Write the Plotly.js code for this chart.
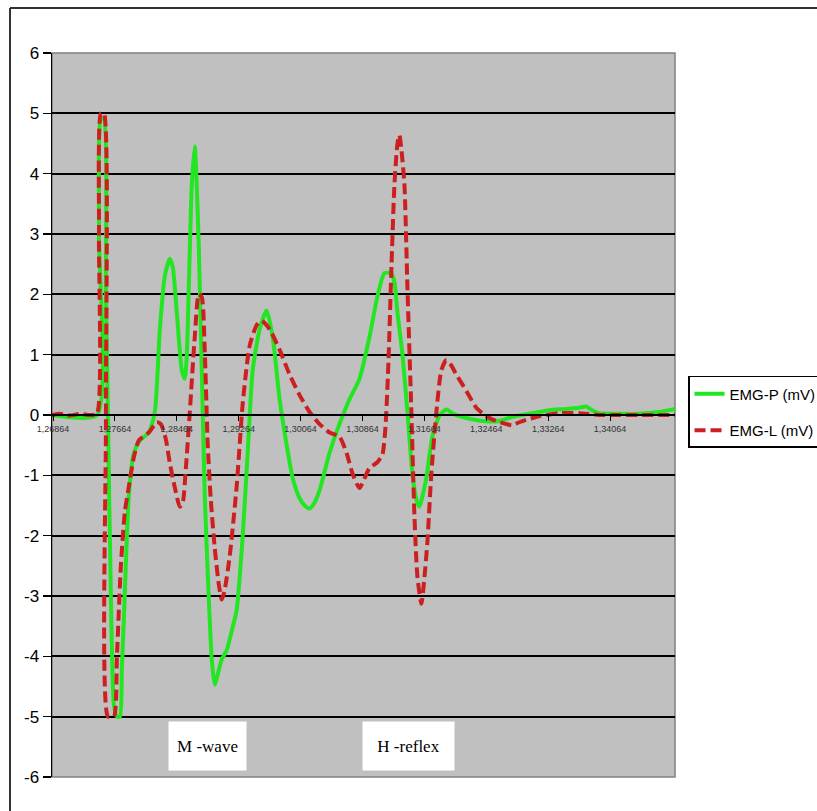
<!DOCTYPE html>
<html>
<head>
<meta charset="utf-8">
<script src="https://cdn.plot.ly/plotly-3.0.1.min.js"></script>
<style>
  html, body { margin: 0; padding: 0; background: #ffffff; }
  #chart { width: 817px; height: 811px; }
</style>
</head>
<body>
<div id="chart"></div>
<script>
// ---- Data (time in s, signals in mV) ----
const timeP = [1.26851,1.27432,1.27458,1.27483,1.27522,1.27548,1.27574,1.27612,1.27651,1.27690,1.27729,1.27754,1.27780,1.27845,1.27909,1.27987,1.28103,1.28180,1.28245,1.28309,1.28374,1.28412,1.28464,1.28529,1.28567,1.28593,1.28619,1.28658,1.28696,1.28722,1.28748,1.28787,1.28825,1.28877,1.28916,1.28954,1.28993,1.29045,1.29109,1.29174,1.29238,1.29316,1.29380,1.29445,1.29535,1.29625,1.29703,1.29793,1.29883,1.29961,1.30051,1.30116,1.30180,1.30245,1.30309,1.30438,1.30567,1.30696,1.30825,1.30954,1.31058,1.31148,1.31238,1.31277,1.31316,1.31380,1.31445,1.31509,1.31561,1.31600,1.31638,1.31690,1.31767,1.31858,1.31948,1.32025,1.32116,1.32206,1.32412,1.32632,1.32800,1.33058,1.33277,1.33496,1.33664,1.33754,1.33832,1.33922,1.34180,1.34438,1.34696,1.34903];
const emgP = [0,0,3.0,4.9,4.9,2.0,0,-3.0,-4.8,-5.0,-5.0,-4.2,-3.37,-1.32,-0.63,-0.42,-0.29,0.05,1.42,2.3,2.59,2.45,1.7,0.74,0.6,1.0,2.1,3.82,4.45,3.8,2.8,0.74,-1.32,-3.03,-4.05,-4.47,-4.3,-4.05,-3.9,-3.58,-3.23,-2.0,-0.63,0.74,1.42,1.73,1.29,0.26,-0.49,-1.04,-1.38,-1.5,-1.55,-1.45,-1.25,-0.63,-0.15,0.26,0.6,1.29,1.97,2.35,2.35,2.2,1.7,1.01,0.05,-0.97,-1.4,-1.52,-1.35,-1.04,-0.36,-0.01,0.09,0.03,-0.02,-0.05,-0.1,-0.1,-0.03,0.03,0.08,0.1,0.12,0.14,0.08,0.03,0.02,0.02,0.05,0.1];

const timeL = [1.26851,1.26954,1.27083,1.27212,1.27341,1.27432,1.27458,1.27483,1.27522,1.27548,1.27574,1.27651,1.27690,1.27741,1.27793,1.27845,1.27909,1.27974,1.28103,1.28206,1.28258,1.28322,1.28374,1.28438,1.28503,1.28541,1.28580,1.28632,1.28696,1.28748,1.28787,1.28825,1.28864,1.28903,1.28954,1.29006,1.29045,1.29083,1.29148,1.29238,1.29316,1.29406,1.29496,1.29561,1.29664,1.29793,1.29922,1.30051,1.30180,1.30309,1.30438,1.30567,1.30658,1.30735,1.30825,1.30890,1.30954,1.31058,1.31122,1.31161,1.31200,1.31238,1.31277,1.31316,1.31341,1.31367,1.31406,1.31445,1.31496,1.31535,1.31574,1.31625,1.31664,1.31703,1.31754,1.31819,1.31883,1.31948,1.32012,1.32077,1.32206,1.32335,1.32464,1.32593,1.32722,1.32800,1.32890,1.32980,1.33148,1.33406,1.33664,1.33922,1.34180,1.34438,1.34696,1.34903];
const emgL = [0,0.02,-0.01,0.02,0,0.02,3.0,5.0,5.0,0,-5.0,-5.0,-4.0,-2.5,-1.6,-1.18,-0.7,-0.42,-0.29,-0.12,-0.15,-0.4,-0.8,-1.2,-1.52,-1.45,-0.9,0.05,1.29,2.0,1.95,1.08,-0.5,-1.4,-2.2,-2.8,-3.06,-2.9,-2.34,-1.18,0.19,1.15,1.49,1.56,1.42,1.08,0.67,0.33,0.05,-0.15,-0.29,-0.36,-0.63,-0.97,-1.21,-1.05,-0.88,-0.78,-0.65,-0.2,0.9,2.45,3.82,4.5,4.64,4.4,3.82,2.1,0.05,-1.66,-2.68,-3.13,-2.7,-2.1,-0.97,0.05,0.74,0.91,0.82,0.67,0.4,0.12,-0.02,-0.1,-0.15,-0.17,-0.12,-0.08,-0.02,0.03,0.03,0,0,0,0,0];

const xTickVals = [1.26864,1.27664,1.28464,1.29264,1.30064,1.30864,1.31664,1.32464,1.33264,1.34064];
const xTickText = ["1,26864","1,27664","1,28464","1,29264","1,30064","1,30864","1,31664","1,32464","1,33264","1,34064"];
const yTickVals = [-6,-5,-4,-3,-2,-1,0,1,2,3,4,5,6];
const yTickText = ["-6","-5","-4","-3","-2","-1","0","1","2","3","4","5","6"];

const seriesNames = ["EMG-P (mV)", "EMG-L (mV)"];
const annotationTexts = ["M -wave", "H -reflex"];

const sans = "'Liberation Sans', Arial, sans-serif";
const serif = "'Liberation Serif', 'Times New Roman', serif";

const traces = [
  {
    x: timeP, y: emgP, name: seriesNames[0], type: 'scatter', mode: 'lines', legendgroup: 'p',
    line: { color: '#22e622', width: 4, shape: 'spline', smoothing: 0.6 }
  },
  {
    x: timeL, y: emgL, name: seriesNames[1], type: 'scatter', mode: 'lines', legendgroup: 'l',
    line: { color: '#cc1f1f', width: 4, dash: '11px,5px', shape: 'spline', smoothing: 0.6 }
  }
];

const layout = {
  width: 817, height: 811,
  margin: { l: 52, r: 142, t: 53, b: 34, pad: 0, autoexpand: false },
  paper_bgcolor: '#ffffff',
  plot_bgcolor: '#c0c0c0',
  showlegend: true,
  legend: {
    x: 1.0209, y: 0.554, xanchor: 'left', yanchor: 'top',
    bgcolor: '#ffffff', bordercolor: '#000000', borderwidth: 1.5,
    font: { family: sans, size: 15, color: '#000000' },
    itemwidth: 30, tracegroupgap: 14
  },
  xaxis: {
    type: 'linear',
    range: [1.26851, 1.34903],
    tickvals: xTickVals, ticktext: xTickText,
    anchor: 'free', position: 0.5,
    showline: true, linecolor: '#000000', linewidth: 2,
    ticks: 'outside', ticklen: 5, tickcolor: '#000000', tickwidth: 1,
    tickfont: { family: sans, size: 9, color: '#333333' },
    showgrid: false, zeroline: false, fixedrange: true
  },
  yaxis: {
    range: [-6, 6],
    tickvals: yTickVals, ticktext: yTickText,
    showgrid: true, gridcolor: '#000000', gridwidth: 2,
    showline: true, linecolor: '#000000', linewidth: 1.5,
    ticks: 'outside', ticklen: 8, tickcolor: '#000000', tickwidth: 1.5,
    tickfont: { family: sans, size: 17, color: '#000000' },
    zeroline: false, fixedrange: true
  },
  shapes: [
    { type: 'rect', xref: 'paper', yref: 'paper', x0: 0, x1: 1, y0: 0, y1: 1,
      line: { color: '#808080', width: 1.5 }, layer: 'below' },
    { type: 'line', xref: 'paper', yref: 'paper', x0: -0.0674, x1: -0.0674, y0: -0.2, y1: 1.0622,
      line: { color: '#333333', width: 2 } },
    { type: 'line', xref: 'paper', yref: 'paper', x0: -0.0674, x1: 1.4, y0: 1.0622, y1: 1.0622,
      line: { color: '#333333', width: 2 } }
  ],
  annotations: [
    { x: 1.28858, y: -5.49, xref: 'x', yref: 'y', text: annotationTexts[0], showarrow: false,
      bgcolor: '#ffffff', width: 75, height: 46,
      font: { family: serif, size: 17, color: '#000000' } },
    { x: 1.31464, y: -5.49, xref: 'x', yref: 'y', text: annotationTexts[1], showarrow: false,
      bgcolor: '#ffffff', width: 89, height: 46,
      font: { family: serif, size: 17, color: '#000000' } }
  ]
};

Plotly.newPlot('chart', traces, layout, { displayModeBar: false, staticPlot: true });
</script>
</body>
</html>
